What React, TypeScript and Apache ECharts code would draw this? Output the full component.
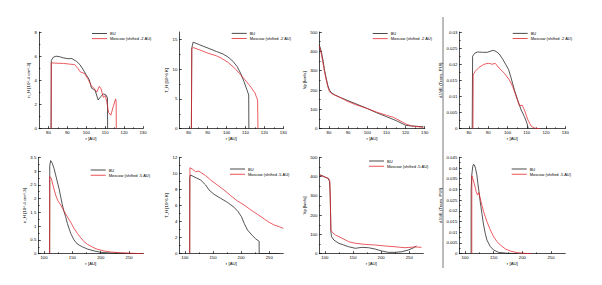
import React, { useEffect, useRef } from "react";
import * as echarts from "echarts";

// ---------- tick labels ----------
const TOP_X_TICKS = [80, 90, 100, 110, 120, 130];
const BOTTOM_X_TICKS = [100, 150, 200, 250];
const N_TOP_TICKS = [0, 2, 4, 6, 8];
const T_TOP_TICKS = [0, 5, 10, 15];
const V_TICKS = [0, 100, 200, 300, 400, 500];
const J_TOP_TICKS = [0, 0.005, 0.01, 0.015, 0.02, 0.025, 0.03];
const N_BOT_TICKS = [0, 0.5, 1, 1.5, 2, 2.5, 3, 3.5];
const T_BOT_TICKS = [0, 2, 4, 6, 8, 10, 12];
const J_BOT_TICKS = [0, 0.005, 0.01, 0.015, 0.02, 0.025, 0.03, 0.035, 0.04, 0.045];

const BU_NAME = "BU";
const MOSCOW_TOP_NAME = "Moscow (shifted -2 AU)";
const MOSCOW_BOT_NAME = "Moscow (shifted -5 AU)";

// ---------- panel 1: density (top) ----------
const p1BuR = [81.4, 81.5, 82.5, 84, 86, 88, 90.5, 92.3, 94.9, 96.7, 98.4, 100, 101.6, 102.8, 104.6, 106.3, 107.7, 109, 110.4, 111.2, 111.3];
const p1BuV = [0, 5.65, 5.9, 6.0, 5.95, 5.85, 5.79, 5.81, 5.56, 5.29, 4.87, 4.45, 4.04, 3.35, 3.2, 2.38, 2.66, 2.88, 2.8, 2.55, 0];
const p1MoR = [81.4, 81.5, 84, 88, 91.2, 93.8, 95.6, 96.8, 99.1, 100.8, 102.6, 104.3, 105.5, 106.9, 107.8, 109, 110.1, 110.9, 111.8, 113, 114.4, 115.5, 115.8, 115.9];
const p1MoV = [0, 5.45, 5.42, 5.4, 5.34, 5.31, 4.98, 4.7, 4.56, 4.14, 3.58, 3.3, 3.02, 3.5, 3.3, 2.6, 2.74, 2.18, 1.34, 1.12, 1.9, 2.46, 2.2, 0];

// ---------- panel 2: temperature (top) ----------
const p2BuR = [81.4, 81.6, 82.3, 85.8, 90.2, 94.7, 98.2, 100.8, 103.5, 105.6, 107.4, 109.2, 110.9, 111.7, 111.8];
const p2BuV = [0, 13.5, 14.5, 14.05, 13.5, 12.93, 12.5, 12.0, 11.25, 10.4, 9.3, 7.9, 6.4, 5.65, 0];
const p2MoR = [81.4, 81.6, 82.3, 85.8, 90.2, 94.7, 97.3, 100.8, 104.4, 107, 109.7, 112.3, 115, 116.4, 116.6];
const p2MoV = [0, 13.4, 13.6, 13.2, 12.65, 12.2, 11.8, 11.1, 10.1, 9.2, 8.2, 7.2, 6.0, 4.8, 0];

// ---------- panel 3: velocity (top) ----------
const p3BuR = [75, 76, 76.9, 77.7, 78.6, 79.5, 80.3, 81.2, 83, 85.6, 90, 94.3, 100.1, 104.8, 110.1, 115.3, 120.2, 123.2, 129.3];
const p3BuV = [434, 400, 356, 304, 261, 221, 200, 187, 175, 163, 145, 128, 104, 83, 62, 41, 17, 14, 10];
const p3MoR = [75, 76, 76.9, 77.7, 78.6, 79.5, 80.3, 81.7, 85.6, 90, 94.3, 100.1, 104.8, 110.1, 113.6, 117.1, 120.2, 123.2, 129.3];
const p3MoV = [429, 391, 339, 296, 253, 215, 192, 180, 163, 140, 123, 104, 86, 69, 59, 41, 24, 14, 7];

// ---------- panel 4: dJ/dE (top) ----------
const p4BuR = [81.7, 81.9, 83, 84.4, 87, 89.6, 91.4, 92.6, 94, 95.7, 97.5, 99.2, 100.6, 101.9, 103.6, 105.3, 107.1, 108.8, 110.1, 110.8];
const p4BuV = [0, 0.0225, 0.0234, 0.0238, 0.0237, 0.0237, 0.0241, 0.0243, 0.024, 0.0232, 0.0216, 0.0198, 0.0183, 0.0157, 0.012, 0.0089, 0.0058, 0.0037, 0.0017, 0];
const p4MoR = [82.1, 82.2, 83.1, 85.2, 87.9, 90.1, 92.2, 93.6, 95.7, 98.4, 101, 102.7, 104.5, 106.2, 107.6, 108.8, 110.6, 112.3, 114.1, 116.7];
const p4MoV = [0, 0.0167, 0.0177, 0.019, 0.02, 0.0203, 0.02, 0.0203, 0.0188, 0.0172, 0.0151, 0.0131, 0.01, 0.0071, 0.0073, 0.0058, 0.0027, 0.0008, 0.0002, 0];

// ---------- panel 5: density (bottom) ----------
const p5BuR = [110, 110.2, 111.8, 114.7, 117.6, 120.6, 123.5, 126.5, 129.4, 132.4, 135.3, 138.2, 141.2, 144.1, 147.1, 152.9, 158.8, 167.6, 176.5, 188.2, 200, 217.6, 235.3, 258.8, 275];
const p5BuV = [0, 3.2, 3.38, 3.28, 3.1, 2.86, 2.61, 2.37, 2.07, 1.77, 1.53, 1.34, 1.1, 0.92, 0.74, 0.5, 0.35, 0.25, 0.17, 0.1, 0.05, 0.024, 0.012, 0, 0];
const p5MoR = [110, 110.2, 112.9, 116.5, 120.6, 124.7, 129.4, 135.3, 141.2, 147.1, 152.9, 158.8, 164.7, 170.6, 176.5, 185.3, 194.1, 205.9, 217.6, 235.3, 258.8, 275];
const p5MoV = [0, 2.8, 2.74, 2.43, 2.13, 1.91, 1.77, 1.55, 1.34, 1.14, 0.92, 0.74, 0.58, 0.44, 0.34, 0.24, 0.16, 0.1, 0.06, 0.036, 0.012, 0];

// ---------- panel 6: temperature (bottom) ----------
const p6BuR = [108.5, 108.6, 110.1, 116.1, 128, 136.9, 142.9, 151.8, 163.7, 175.6, 187.5, 194.6, 200.6, 205.4, 211.3, 220.2, 226.2, 230.4, 232, 232.1, 267.9];
const p6BuV = [0, 9.5, 9.8, 9.58, 9.17, 8.55, 7.93, 7.39, 6.89, 6.39, 5.77, 5.23, 4.6, 3.78, 2.95, 2.24, 1.83, 1.62, 1.55, 0, 0];
const p6MoR = [108.5, 108.9, 113.1, 119, 125, 128, 136.9, 145.8, 157.7, 169.6, 181.5, 193.5, 205.4, 217.3, 229.2, 241.1, 250, 258.9, 267.9, 275];
const p6MoV = [0, 10.7, 10.54, 10.2, 10.29, 10.12, 9.71, 9.17, 8.55, 7.93, 7.22, 6.56, 6.06, 5.44, 4.9, 4.32, 3.9, 3.57, 3.36, 3.15];

// ---------- panel 7: velocity (bottom) ----------
const p7BuR = [90, 95.3, 101.2, 105.9, 108.2, 109.4, 110, 110.6, 111.8, 115.9, 124.7, 133.5, 142.4, 154.1, 165.9, 177.6, 189.4, 201.2, 212.9, 224.7, 236.5, 248.2, 257.1, 262.9];
const p7BuV = [410, 405, 396, 391, 374, 305, 218, 114, 88, 71, 54, 45, 36, 28, 33, 31, 24, 14, 7, 7, 10, 19, 30, 40];
const p7MoR = [90, 101.2, 107, 108.8, 109.4, 110.6, 112.9, 118.8, 130.6, 142.4, 154.1, 171.8, 189.4, 207.1, 224.7, 242.4, 260, 271.8];
const p7MoV = [408, 396, 388, 374, 300, 123, 111, 97, 80, 62, 54, 48, 45, 40, 36, 31, 35, 33];

// ---------- panel 8: dJ/dE (bottom) ----------
const p8BuR = [110.6, 110.7, 111.8, 113.5, 114.7, 116.5, 118.2, 120.6, 122.4, 124.7, 126.5, 129.4, 132.4, 135.3, 138.2, 144.1, 150, 158.8, 173.5, 191.2];
const p8BuV = [0, 0.03, 0.0368, 0.0407, 0.0417, 0.0414, 0.0399, 0.0368, 0.0329, 0.0282, 0.0243, 0.0188, 0.0134, 0.0095, 0.0064, 0.0033, 0.0017, 0.0006, 0.0002, 0];
const p8MoR = [111.8, 111.9, 113.5, 115.9, 118.2, 119.4, 121.8, 124.1, 126.5, 129.4, 132.4, 135.3, 138.2, 144.1, 150, 155.9, 161.8, 170.6, 179.4, 191.2, 202.9, 214.7];
const p8MoV = [0, 0.0364, 0.0352, 0.0329, 0.0305, 0.029, 0.0274, 0.0285, 0.0259, 0.0227, 0.0196, 0.0173, 0.015, 0.0111, 0.0079, 0.0056, 0.004, 0.0022, 0.0012, 0.0005, 0.0002, 0];

// ---------- panel definitions ----------
const panels = [
  { yName: "n_H [10^-4 cm^-3]", xTicks: TOP_X_TICKS, yTicks: N_TOP_TICKS, xMin: 75, xMax: 130, yMax: 8, bu: [p1BuR, p1BuV], mo: [p1MoR, p1MoV], moName: MOSCOW_TOP_NAME },
  { yName: "T_H [10^6 K]", xTicks: TOP_X_TICKS, yTicks: T_TOP_TICKS, xMin: 75, xMax: 130, yMax: 16.2, bu: [p2BuR, p2BuV], mo: [p2MoR, p2MoV], moName: MOSCOW_TOP_NAME },
  { yName: "Vp [km/s]", xTicks: TOP_X_TICKS, yTicks: V_TICKS, xMin: 75, xMax: 130, yMax: 500, bu: [p3BuR, p3BuV], mo: [p3MoR, p3MoV], moName: MOSCOW_TOP_NAME },
  { yName: "dJ/dE (Trans. PUI)", xTicks: TOP_X_TICKS, yTicks: J_TOP_TICKS, xMin: 75, xMax: 130, yMax: 0.03, bu: [p4BuR, p4BuV], mo: [p4MoR, p4MoV], moName: MOSCOW_TOP_NAME },
  { yName: "n_H [10^-4 cm^-3]", xTicks: BOTTOM_X_TICKS, yTicks: N_BOT_TICKS, xMin: 90, xMax: 275, yMax: 3.5, bu: [p5BuR, p5BuV], mo: [p5MoR, p5MoV], moName: MOSCOW_BOT_NAME },
  { yName: "T_H [10^6 K]", xTicks: BOTTOM_X_TICKS, yTicks: T_BOT_TICKS, xMin: 90, xMax: 275, yMax: 12, bu: [p6BuR, p6BuV], mo: [p6MoR, p6MoV], moName: MOSCOW_BOT_NAME },
  { yName: "Vp [km/s]", xTicks: BOTTOM_X_TICKS, yTicks: V_TICKS, xMin: 90, xMax: 275, yMax: 500, bu: [p7BuR, p7BuV], mo: [p7MoR, p7MoV], moName: MOSCOW_BOT_NAME },
  { yName: "dJ/dE (Trans. PUI)", xTicks: BOTTOM_X_TICKS, yTicks: J_BOT_TICKS, xMin: 90, xMax: 275, yMax: 0.045, bu: [p8BuR, p8BuV], mo: [p8MoR, p8MoV], moName: MOSCOW_BOT_NAME },
];

// layout (pixels)
const layout = [
  { left: 39, top: 32, width: 104, height: 96.7, lgLeft: 92, lgTop: 31.5, nameGap: 9 },
  { left: 179.3, top: 32, width: 104, height: 96.7, lgLeft: 231.7, lgTop: 31.3, nameGap: 9 },
  { left: 319.3, top: 32, width: 105.4, height: 96.7, lgLeft: 372.7, lgTop: 31.5, nameGap: 10 },
  { left: 459.3, top: 32, width: 106, height: 96.7, lgLeft: 512.7, lgTop: 31.3, nameGap: 13 },
  { left: 38.3, top: 157.3, width: 105, height: 96.4, lgLeft: 90.7, lgTop: 168, nameGap: 9 },
  { left: 179.3, top: 157.3, width: 104, height: 96.4, lgLeft: 230, lgTop: 167, nameGap: 8 },
  { left: 319.3, top: 157.3, width: 104, height: 96.4, lgLeft: 369, lgTop: 159, nameGap: 10 },
  { left: 459.3, top: 157.3, width: 106, height: 96.4, lgLeft: 511.7, lgTop: 167, nameGap: 13 },
];

const BU_COLOR = "#1c1c1c";
const MO_COLOR = "#e3262c";
const FONT = "'Liberation Sans', Arial, sans-serif";
const FS = 4.3;

function mids(t: number[]) {
  const out: number[] = [];
  for (let i = 0; i < t.length - 1; i++) out.push((t[i] + t[i + 1]) / 2);
  return out;
}

function buildOption() {
  const grid: any[] = [];
  const xAxis: any[] = [];
  const yAxis: any[] = [];
  const series: any[] = [];
  const legend: any[] = [];
  panels.forEach((p, i) => {
    const L = layout[i];
    grid.push({ left: L.left, top: L.top, width: L.width, height: L.height, containLabel: false });
    const lineStyle = { color: "#000", width: 0.7 };
    xAxis.push({
      type: "value", gridIndex: i, min: p.xMin, max: p.xMax, position: "bottom",
      name: "r [AU]", nameLocation: "middle", nameGap: 7.5,
      nameTextStyle: { fontSize: FS, color: "#000", fontFamily: FONT },
      axisLine: { show: true, onZero: false, lineStyle }, splitLine: { show: false },
      axisTick: { show: true, inside: true, length: 2.5, lineStyle, customValues: p.xTicks },
      axisLabel: { show: true, fontSize: FS, color: "#000", fontFamily: FONT, margin: 2, customValues: p.xTicks },
    });
    xAxis.push({
      type: "value", gridIndex: i, min: p.xMin, max: p.xMax, position: "bottom", offset: 0,
      axisLine: { show: false, onZero: false }, splitLine: { show: false },
      axisTick: { show: true, inside: true, length: 1.3, lineStyle, customValues: mids(p.xTicks) },
      axisLabel: { show: false },
    });
    yAxis.push({
      type: "value", gridIndex: i, min: 0, max: p.yMax, position: "left",
      name: p.yName, nameLocation: "middle", nameGap: L.nameGap, nameRotate: 90,
      nameTextStyle: { fontSize: FS, color: "#000", fontFamily: FONT },
      axisLine: { show: true, onZero: false, lineStyle }, splitLine: { show: false },
      axisTick: { show: true, inside: true, length: 2.5, lineStyle, customValues: p.yTicks },
      axisLabel: { show: true, fontSize: FS, color: "#000", fontFamily: FONT, margin: 2, customValues: p.yTicks },
    });
    yAxis.push({
      type: "value", gridIndex: i, min: 0, max: p.yMax, position: "left", offset: 0,
      axisLine: { show: false, onZero: false }, splitLine: { show: false },
      axisTick: { show: true, inside: true, length: 1.3, lineStyle, customValues: mids(p.yTicks) },
      axisLabel: { show: false },
    });
    const [buR, buV] = p.bu;
    const [moR, moV] = p.mo;
    series.push({
      type: "line", name: BU_NAME, xAxisIndex: 2 * i, yAxisIndex: 2 * i,
      data: buR.map((r, k) => [r, buV[k]]), showSymbol: false, symbol: "none",
      lineStyle: { color: BU_COLOR, width: 0.75 }, itemStyle: { color: BU_COLOR }, silent: true,
    });
    series.push({
      type: "line", name: p.moName, xAxisIndex: 2 * i, yAxisIndex: 2 * i,
      data: moR.map((r, k) => [r, moV[k]]), showSymbol: false, symbol: "none",
      lineStyle: { color: MO_COLOR, width: 0.75 }, itemStyle: { color: MO_COLOR }, silent: true,
    });
    legend.push({
      left: L.lgLeft, top: L.lgTop, orient: "vertical", padding: 0, itemGap: 1.2,
      itemWidth: 15, itemHeight: 0.8, icon: "rect", selectedMode: false,
      textStyle: { fontSize: FS - 0.3, color: "#000", fontFamily: FONT, padding: [0, 0, 0, -2] },
      data: [BU_NAME, p.moName],
    });
  });
  return {
    animation: false,
    backgroundColor: "#fff",
    textStyle: { fontFamily: FONT },
    grid, xAxis, yAxis, series, legend,
    graphic: [
      { type: "line", shape: { x1: 443, y1: 17, x2: 443, y2: 268 }, style: { stroke: "#555", lineWidth: 0.8 } },
    ],
  };
}

export default function App() {
  const ref = useRef<HTMLDivElement>(null);
  useEffect(() => {
    if (!ref.current) return;
    const chart = echarts.init(ref.current, undefined, { renderer: "svg" });
    chart.setOption(buildOption());
    return () => chart.dispose();
  }, []);
  return (
    <div
      ref={ref}
      style={{ position: "fixed", left: 0, top: 0, width: 602, height: 285, background: "#fff" }}
    />
  );
}
